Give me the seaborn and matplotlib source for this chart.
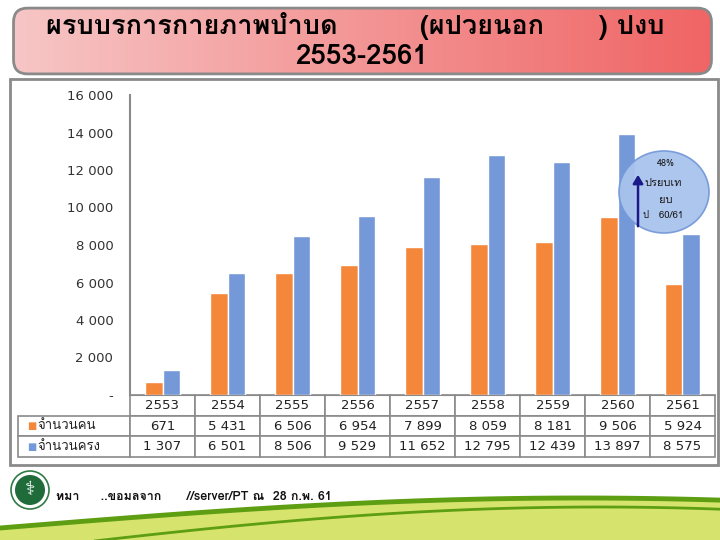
import numpy as np
import pandas as pd
import matplotlib
matplotlib.use("Agg")
import matplotlib.pyplot as plt
import seaborn as sns
from matplotlib import font_manager
from matplotlib.ft2font import FT2Font
from matplotlib.patches import FancyBboxPatch, Rectangle, Ellipse, FancyArrowPatch, Polygon

# data
years = ['2553', '2554', '2555', '2556', '2557', '2558', '2559', '2560', '2561']
persons = [671, 5431, 6506, 6954, 7899, 8059, 8181, 9506, 5924]
visits = [1307, 6501, 8506, 9529, 11652, 12795, 12439, 13897, 8575]
series_names = ['จำนวนคน', 'จำนวนครง']
yticks = [0, 2000, 4000, 6000, 8000, 10000, 12000, 14000, 16000]
title_1 = 'ผรบบรการกายภาพบำบด         (ผปวยนอก      ) ปงบ'
title_2 = '2553-2561'
note_lines = ['48%', 'ปรยบเท', 'ยบ', 'ป   60/61']
footer = 'ทมา     ..ขอมลจาก      //server/PT ณ  28 ก.พ. 61'

orange = '#F5873A'
blue = '#7599D8'


# find a font that has Thai glyphs
def thai_font():
    for f in font_manager.fontManager.ttflist:
        try:
            if 0x0E01 in FT2Font(f.fname).get_charmap():
                return f.name
        except Exception:
            pass
    return 'DejaVu Sans'


sns.set_style('white')
TH = thai_font()
plt.rcParams['font.family'] = [TH, 'DejaVu Sans']

W, H = 720, 540
fig = plt.figure(figsize=(7.2, 5.4), dpi=100)


def fx(x):
    return x / W


def fy(y):
    return 1 - y / H


# title box with gradient
tax = fig.add_axes([fx(10), fy(76), fx(705), 70 / H])
grad = np.linspace(0, 1, 256).reshape(1, -1)
cmap = matplotlib.colors.LinearSegmentedColormap.from_list('t', ['#F7C6C6', '#F06464'])
im = tax.imshow(grad, aspect='auto', cmap=cmap, extent=[0, 1, 0, 1])
tax.set_xlim(0, 1)
tax.set_ylim(0, 1)
tax.axis('off')
box = FancyBboxPatch((0.005, 0.03), 0.99, 0.94, boxstyle='round,pad=0,rounding_size=0.02',
                     transform=tax.transAxes, fc='none', ec='#8A8A8A', lw=2, mutation_aspect=10)
tax.add_patch(box)
im.set_clip_path(box)
fig.text(fx(355), fy(26), title_1, ha='center', va='center', fontsize=19.5,
         fontweight='bold', color='black')
fig.text(fx(362), fy(56), title_2, ha='center', va='center', fontsize=20,
         fontweight='bold', color='black')

# chart frame
fig.add_artist(Rectangle((fx(10), fy(465)), fx(708), (465 - 79) / H, transform=fig.transFigure,
                         fc='none', ec='#8A8A8A', lw=2))

# main bars
df = pd.DataFrame({'year': years * 2,
                   'value': persons + visits,
                   'series': [series_names[0]] * len(years) + [series_names[1]] * len(years)})

ax = fig.add_axes([fx(130), fy(395), fx(585), 300 / H])
sns.barplot(data=df, x='year', y='value', hue='series', palette=[orange, blue],
            width=0.55, gap=0, ax=ax, legend=False, saturation=1)
ax.set_xlim(-0.5, len(years) - 0.5)
ax.set_ylim(0, 16000)
ax.set_yticks(yticks)
ax.set_yticklabels(['-' if v == 0 else f'{v:,}'.replace(',', ' ') for v in yticks],
                   fontsize=9.5, color='#333333', family='DejaVu Sans')
ax.tick_params(axis='y', length=0, pad=12)
ax.set_xticks([])
ax.set_xlabel('')
ax.set_ylabel('')
for s in ['top', 'right']:
    ax.spines[s].set_visible(False)
ax.spines['left'].set_color('#8A8A8A')
ax.spines['bottom'].set_color('#8A8A8A')
ax.spines['left'].set_linewidth(1.5)

# data table under the bars
fmt = lambda v: f'{v:,}'.replace(',', ' ')
cells = [[''] + years,
         [''] + [fmt(v) for v in persons],
         [''] + [fmt(v) for v in visits]]
lab_w = 112
tbl = ax.table(cellText=cells, cellLoc='center',
               colWidths=[lab_w] + [65] * len(years),
               bbox=[(18 - 130) / 585, -62 / 300, (715 - 18) / 585, 62 / 300])
tbl.auto_set_font_size(False)
for (r, c), cell in tbl.get_celld().items():
    cell.set_edgecolor('#8A8A8A')
    cell.set_linewidth(1.2)
    cell.get_text().set_fontsize(9.5)
    cell.get_text().set_color('#222222')
    cell.get_text().set_family('DejaVu Sans')
    if r == 0 and c == 0:
        cell.visible_edges = ''
for i, (nm, col) in enumerate(zip(series_names, [orange, blue])):
    yy = -(20.5 + 21 * i + 10.5) / 300
    ax.text(-103 / 585, yy, '■', color=col, fontsize=7, ha='left', va='center',
            transform=ax.transAxes, family='DejaVu Sans')
    ax.text(-93 / 585, yy, nm, color='#222222', fontsize=9.5, ha='left', va='center',
            transform=ax.transAxes)

# comparison bubble
fig.add_artist(Ellipse((fx(664), fy(192)), fx(90), 82 / H, transform=fig.transFigure,
                       fc='#A9C3EE', ec='#7599D8', lw=1.2, alpha=0.95))
fig.add_artist(FancyArrowPatch((fx(638), fy(229)), (fx(638), fy(172)), transform=fig.transFigure,
                               arrowstyle='-|>,head_width=3,head_length=5', color='#1A1A8A', lw=1.8))
fig.text(fx(666), fy(164), note_lines[0], ha='center', va='center', fontsize=6.5, color='#1a1a1a')
fig.text(fx(663), fy(183), note_lines[1], ha='center', va='center', fontsize=8, color='#1a1a1a')
fig.text(fx(666), fy(200), note_lines[2], ha='center', va='center', fontsize=8, color='#1a1a1a')
fig.text(fx(663), fy(215), note_lines[3], ha='center', va='center', fontsize=7, color='#1a1a1a')

# footer logo and source
fig.add_artist(Ellipse((fx(30), fy(490)), fx(38), 38 / H, transform=fig.transFigure,
                       fc='white', ec='#2F7A45', lw=1.2))
fig.add_artist(Ellipse((fx(30), fy(490)), fx(30), 30 / H, transform=fig.transFigure,
                       fc='#1F6B3A', ec='none'))
fig.text(fx(30), fy(490), '⚕', ha='center', va='center', fontsize=14, color='white',
         family='DejaVu Sans')
fig.text(fx(56), fy(497), footer, ha='left', va='center', fontsize=9, fontweight='bold',
         color='#111111')

# green swoosh at the bottom
xs = np.linspace(0, 720, 60)
top = 528 - 30 * np.sin(np.clip(xs / 720, 0, 1) * np.pi * 0.62)
low = 552 - 45 * np.sin(np.clip(xs / 720, 0, 1) * np.pi * 0.6)
fig.add_artist(Polygon(np.column_stack([fx(np.r_[xs, xs[::-1]]), fy(np.r_[top, np.full_like(xs, 545)])]),
                       closed=True, transform=fig.transFigure, fc='#D6E46E', ec='none'))
fig.add_artist(matplotlib.lines.Line2D(fx(xs), fy(top), transform=fig.transFigure,
                                       color='#5E9E12', lw=3.5))
fig.add_artist(matplotlib.lines.Line2D(fx(xs), fy(low), transform=fig.transFigure,
                                       color='#5E9E12', lw=2))

plt.savefig('out.png', dpi=100)
